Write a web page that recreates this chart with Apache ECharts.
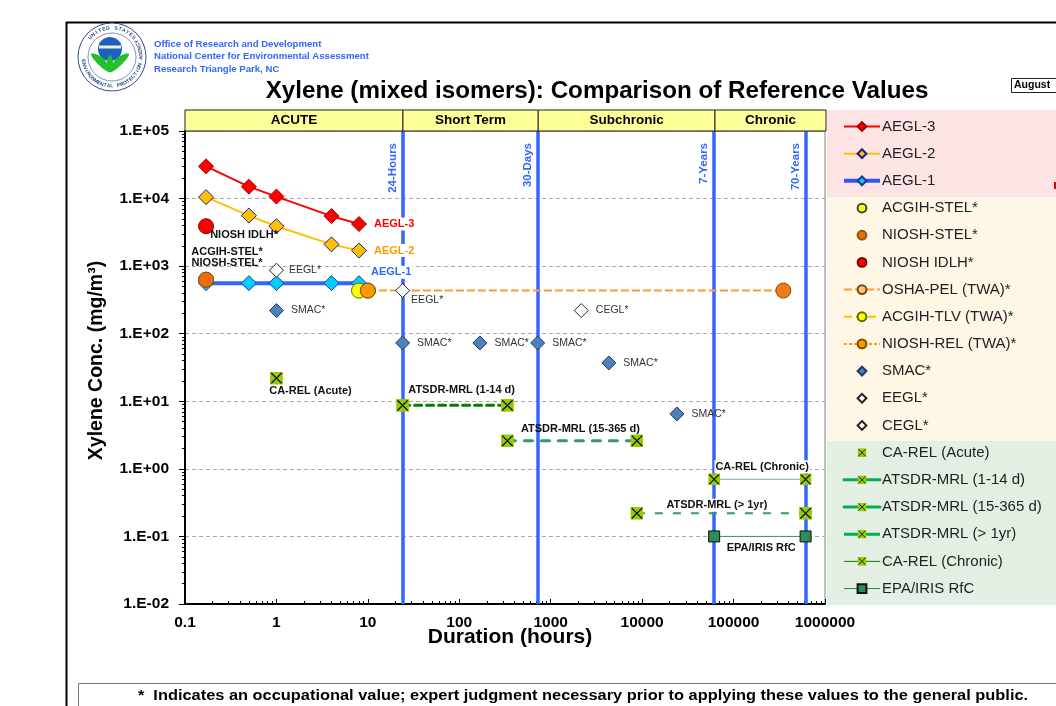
<!DOCTYPE html>
<html>
<head>
<meta charset="utf-8">
<style>
  html, body { margin: 0; padding: 0; background: #fff; overflow: hidden; }
  #main { width: 1056px; height: 706px; }
</style>
<script src="https://cdn.jsdelivr.net/npm/echarts@6/dist/echarts.min.js"></script>
</head>
<body>
<div id="main"></div>
<script>
// values (duration in hours, concentration in mg/m3)
const aeglX = [0.17, 0.5, 1, 4, 8];
const aegl3Y = [30000, 15000, 10700, 5500, 4200];
const aegl2Y = [10500, 5600, 3900, 2100, 1700];
const aegl1Y = [560, 560, 560, 560, 560];
const acgihStel = [[0.17, 630]];
const nioshStel = [[0.17, 630]];
const nioshIdlh = [[0.17, 3900]];
const oshaPel = [[10, 435], [350400, 435]];
const acgihTlv = [[8, 435]];
const nioshRel = [[10, 435]];
const smac = [[1, 220], [24, 73], [168, 73], [720, 73], [4320, 37], [24000, 6.5]];
const eegl = [[1, 870], [24, 435]];
const cegl = [[2160, 220]];
const caRelAcute = [[1, 22]];
const atsdr14 = [[24, 8.7], [336, 8.7]];
const atsdr365 = [[336, 2.6], [8760, 2.6]];
const atsdrYr = [[8760, 0.22], [613200, 0.22]];
const caRelChronic = [[61320, 0.7], [613200, 0.7]];
const epaRfc = [[61320, 0.1], [613200, 0.1]];
const durationMarks = [[24, '24-Hours'], [720, '30-Days'], [61320, '7-Years'], [613200, '70-Years']];
const headerBands = [[0.1, 24, 'ACUTE'], [24, 720, 'Short Term'], [720, 61320, 'Subchronic'], [61320, 1000000, 'Chronic']];
const legendNames = ['AEGL-3', 'AEGL-2', 'AEGL-1', 'ACGIH-STEL*', 'NIOSH-STEL*', 'NIOSH IDLH*', 'OSHA-PEL (TWA)*',
  'ACGIH-TLV (TWA)*', 'NIOSH-REL (TWA)*', 'SMAC*', 'EEGL*', 'CEGL*', 'CA-REL (Acute)', 'ATSDR-MRL (1-14 d)',
  'ATSDR-MRL (15-365 d)', 'ATSDR-MRL (> 1yr)', 'CA-REL (Chronic)', 'EPA/IRIS RfC'];

const FONT = '"Liberation Sans", Arial, sans-serif';
const zip = (xs, ys) => xs.map((x, i) => [x, ys[i]]);

// square with a black cross, the CA-REL / ATSDR marker
const crossSvg = 'image://data:image/svg+xml;utf8,' + encodeURIComponent(
  '<svg xmlns="http://www.w3.org/2000/svg" width="20" height="20"><rect width="20" height="20" fill="#99cc00"/>' +
  '<path d="M2 2L18 18M18 2L2 18" stroke="#111" stroke-width="2"/></svg>');

// put a label on one point of a series
function tag(data, idx, label) {
  return data.map((d, i) => i === idx ? { value: d, label: Object.assign({ show: true }, label) } : { value: d });
}
const boldLabel = { fontFamily: FONT, fontSize: 11, fontWeight: 'bold', color: '#111' };
const thinLabel = { fontFamily: FONT, fontSize: 10.5, color: '#333', position: 'right', distance: 7 };

function lineSeries(name, data, color, width, symbol, size, fill, border, extra) {
  return Object.assign({
    name: name, type: 'line', data: data, symbol: symbol, symbolSize: size, showAllSymbol: true,
    lineStyle: { color: color, width: width },
    itemStyle: { color: fill, borderColor: border, borderWidth: 1 },
    emphasis: { disabled: true }, animation: false
  }, extra || {});
}

const series = [];
// header bar on its own little grid, same log scale
series.push({
  type: 'custom', xAxisIndex: 1, yAxisIndex: 1, data: headerBands, silent: true, animation: false,
  encode: { x: [0, 1] },
  renderItem: function (params, api) {
    const a = api.coord([api.value(0), 1]);
    const b = api.coord([api.value(1), 0]);
    return {
      type: 'rect',
      shape: { x: a[0], y: a[1], width: b[0] - a[0], height: b[1] - a[1] },
      style: { fill: '#ffff99', stroke: '#222', lineWidth: 1 },
      textContent: { style: { text: headerBands[params.dataIndex][2], font: 'bold 13.5px ' + FONT, fill: '#000' } },
      textConfig: { position: 'inside' }
    };
  }
});
// vertical time markers, kept under the marks and their white label boxes
series.push({
  type: 'line', data: [], animation: false, silent: true, z: 1,
  markLine: {
    silent: true, symbol: 'none', animation: false, z: 1,
    lineStyle: { color: '#3366ff', width: 3.5, type: 'solid' },
    label: { show: true, position: 'insideEndTop', fontFamily: FONT, fontSize: 11.5, fontWeight: 'bold', color: '#3366ff', formatter: '{b}', distance: 4, padding: [0, 8, 0, 0] },
    data: durationMarks.map(m => ({ name: m[1], xAxis: m[0] }))
  }
});

const whiteLabel = { backgroundColor: '#fff', padding: [1, 1] };
series.push(lineSeries('AEGL-1', tag(zip(aeglX, aegl1Y), 4, Object.assign({}, boldLabel, whiteLabel, { formatter: 'AEGL-1', position: 'right', distance: 3, offset: [0, -11], color: '#3366ff' })), '#3366ff', 4, 'diamond', 15, '#00ccff', '#1f3a93'));
series.push(lineSeries('AEGL-2', tag(zip(aeglX, aegl2Y), 4, Object.assign({}, boldLabel, whiteLabel, { formatter: 'AEGL-2', position: 'right', distance: 6, color: '#ff9900' })), '#ffc000', 2, 'diamond', 15, '#ffc000', '#1f1f8f'));
series.push(lineSeries('AEGL-3', tag(zip(aeglX, aegl3Y), 4, Object.assign({}, boldLabel, whiteLabel, { formatter: 'AEGL-3', position: 'right', distance: 6, color: '#ff0000' })), '#ff0000', 2, 'diamond', 15, '#ff0000', '#a00000'));
series.push(lineSeries('ACGIH-TLV (TWA)*', acgihTlv, '#ffc000', 2, 'circle', 15, '#ffff00', '#666600', { lineStyle: { color: '#ffc000', width: 2, type: [8, 4] } }));
series.push(lineSeries('OSHA-PEL (TWA)*', oshaPel, '#ff9933', 2, 'circle', 15, '#f07a1a', '#7f4a00', { lineStyle: { color: '#ff9933', width: 2, type: [8, 3] } }));
series.push(lineSeries('NIOSH-REL (TWA)*', nioshRel, '#ff9900', 1, 'circle', 15, '#ff9900', '#7f4a00', { lineStyle: { color: '#ff9900', width: 1, type: 'dashed' } }));
series.push(lineSeries('ACGIH-STEL*', acgihStel, '#000', 0, 'circle', 15, '#ffff00', '#444'));
series.push(lineSeries('NIOSH-STEL*', tag(nioshStel, 0, Object.assign({}, boldLabel, { formatter: 'ACGIH-STEL*\nNIOSH-STEL*', position: 'top', distance: 5, offset: [21, 1.5], lineHeight: 11 })), '#000', 0, 'circle', 15, '#f06a10', '#8a5a00'));
series.push(lineSeries('NIOSH IDLH*', tag(nioshIdlh, 0, Object.assign({}, boldLabel, { formatter: 'NIOSH IDLH*', position: 'bottom', distance: -1, offset: [38, -4] })), '#000', 0, 'circle', 15, '#ff0000', '#800000'));
series.push(lineSeries('SMAC*', smac.map(d => ({ value: d, label: Object.assign({ show: true, formatter: 'SMAC*' }, thinLabel) })), '#000', 0, 'diamond', 14, '#4f81bd', '#1f3a5f'));
series.push(lineSeries('EEGL*', [
  { value: eegl[0], label: Object.assign({ show: true, formatter: 'EEGL*' }, thinLabel, { distance: 5 }) },
  { value: eegl[1], label: Object.assign({ show: true, formatter: 'EEGL*' }, thinLabel, { offset: [-6, 10] }) }
], '#000', 0, 'diamond', 14, '#fff', '#222'));
series.push(lineSeries('CEGL*', cegl.map(d => ({ value: d, label: Object.assign({ show: true, formatter: 'CEGL*' }, thinLabel) })), '#000', 0, 'diamond', 14, '#fff', '#222'));
series.push(lineSeries('CA-REL (Acute)', tag(caRelAcute, 0, Object.assign({}, boldLabel, { formatter: 'CA-REL (Acute)', position: 'bottom', distance: 1, offset: [34, 0] })), '#000', 0, crossSvg, 13, '#99cc00', '#333'));
series.push(lineSeries('ATSDR-MRL (1-14 d)', tag(atsdr14, 0, Object.assign({}, boldLabel, { formatter: 'ATSDR-MRL (1-14 d)', position: 'top', distance: 4, offset: [59, 1] })), '#008000', 3, crossSvg, 13, '#99cc00', '#333', { lineStyle: { color: '#008000', width: 3, type: [7, 5], cap: 'round' } }));
series.push(lineSeries('ATSDR-MRL (15-365 d)', tag(atsdr365, 0, Object.assign({}, boldLabel, { formatter: 'ATSDR-MRL (15-365 d)', position: 'top', distance: 0, offset: [73, 0] })), '#339966', 3, crossSvg, 13, '#99cc00', '#333', { lineStyle: { color: '#339966', width: 3, type: [8, 9], cap: 'round' } }));
series.push(lineSeries('ATSDR-MRL (> 1yr)', tag(atsdrYr, 0, Object.assign({}, boldLabel, whiteLabel, { formatter: 'ATSDR-MRL (> 1yr)', position: 'top', distance: 0, offset: [80, 5] })), '#339966', 2, crossSvg, 13, '#99cc00', '#333', { lineStyle: { color: '#339966', width: 2, type: [8, 10] } }));
series.push(lineSeries('CA-REL (Chronic)', tag(caRelChronic, 0, Object.assign({}, boldLabel, whiteLabel, { formatter: 'CA-REL (Chronic)', position: 'top', distance: 1, offset: [48, 1] })), '#66bb88', 1, crossSvg, 12, '#99cc00', '#333'));
series.push(lineSeries('EPA/IRIS RfC', tag(epaRfc, 0, Object.assign({}, boldLabel, { formatter: 'EPA/IRIS RfC', position: 'bottom', distance: 3, offset: [47, -3] })), '#339966', 1, 'rect', 11, '#2e8b57', '#111'));

// legend keys differ a bit from the marks in the plot
const legendLines = {
  'AEGL-1': { color: '#3355ee', width: 4, type: 'solid' },
  'NIOSH-REL (TWA)*': { type: [3, 2] },
  'ATSDR-MRL (1-14 d)': { color: '#00b050', width: 3, type: 'solid' },
  'ATSDR-MRL (15-365 d)': { color: '#00b050', width: 3, type: 'solid' },
  'ATSDR-MRL (> 1yr)': { color: '#00b050', width: 3, type: 'solid' },
  'CA-REL (Chronic)': { color: '#008000', width: 1, type: 'solid' },
  'EPA/IRIS RfC': { color: '#2e7d55', width: 1, type: 'solid' }
};
const legendData = legendNames.map(n => {
  const item = { name: n };
  if (legendLines[n]) item.lineStyle = legendLines[n];
  if (n === 'OSHA-PEL (TWA)*') item.itemStyle = { color: '#fdc08a' };
  return item;
});

// EPA seal and page furniture
const leaf = pts => ({ type: 'polygon', shape: { points: pts, smooth: 0.4 }, style: { fill: '#22c02a' } });
const graphics = [
  { type: 'rect', shape: { x: 827, y: 110, width: 229, height: 87 }, style: { fill: '#fde3e3' } },
  { type: 'rect', shape: { x: 827, y: 197, width: 229, height: 244 }, style: { fill: '#fef7e5' } },
  { type: 'rect', shape: { x: 827, y: 441, width: 229, height: 164 }, style: { fill: '#e4efe4' } },
  { type: 'rect', shape: { x: 1054, y: 182, width: 2, height: 7 }, style: { fill: '#e00000' } },
  { type: 'line', shape: { x1: 66, y1: 22.5, x2: 1056, y2: 22.5 }, style: { stroke: '#000', lineWidth: 2 } },
  { type: 'line', shape: { x1: 66.5, y1: 22, x2: 66.5, y2: 706 }, style: { stroke: '#000', lineWidth: 2 } },
  { type: 'rect', shape: { x: 1011.5, y: 78.5, width: 60, height: 14 }, style: { fill: '#fff', stroke: '#222', lineWidth: 1 } },
  { type: 'text', x: 1014, y: 80, style: { text: 'August', font: 'bold 10.5px ' + FONT, fill: '#000' } },
  { type: 'rect', shape: { x: 78.5, y: 683.5, width: 1000, height: 30 }, style: { fill: '#fff', stroke: '#777', lineWidth: 1 } },
  { type: 'text', x: 583, y: 696, scaleX: 1.17, style: { text: '*  Indicates an occupational value; expert judgment necessary prior to applying these values to the general public.', font: 'bold 14px ' + FONT, fill: '#000', align: 'center', verticalAlign: 'middle' } },
  { type: 'text', x: 154, y: 44, style: { text: 'Office of Research and Development', font: 'bold 9.6px ' + FONT, fill: '#3366ff', verticalAlign: 'middle' } },
  { type: 'text', x: 154, y: 56.5, style: { text: 'National Center for Environmental Assessment', font: 'bold 9.6px ' + FONT, fill: '#3366ff', verticalAlign: 'middle' } },
  { type: 'text', x: 154, y: 69, style: { text: 'Research Triangle Park, NC', font: 'bold 9.6px ' + FONT, fill: '#3366ff', verticalAlign: 'middle' } },
  { type: 'circle', shape: { cx: 112, cy: 57, r: 34 }, style: { fill: '#fff', stroke: '#2a4a8a', lineWidth: 1 } },
  { type: 'circle', shape: { cx: 112, cy: 57, r: 24 }, style: { fill: '#fff', stroke: '#2a4a8a', lineWidth: 0.6 } },
  { type: 'circle', shape: { cx: 110, cy: 49, r: 12 }, style: { fill: '#1f5fbf' } },
  { type: 'rect', shape: { x: 99, y: 45.5, width: 22, height: 3 }, style: { fill: '#e8f4d0' } },
  leaf([[110, 72], [100, 66], [91, 54], [103, 58]]),
  leaf([[110, 72], [120, 66], [129, 54], [117, 58]]),
  leaf([[110, 72], [107, 62], [110, 55], [113, 62]])
];
// seal lettering, one rotated character at a time
function ringText(text, startDeg, stepDeg, r, flip) {
  [...text].forEach((ch, i) => {
    const deg = startDeg + i * stepDeg;
    const rad = deg * Math.PI / 180;
    graphics.push({
      type: 'text', x: 112 + r * Math.sin(rad), y: 57 - r * Math.cos(rad),
      rotation: flip ? Math.PI - rad : -rad,
      style: { text: ch, font: 'bold 5px ' + FONT, fill: '#2a4a8a', align: 'center', verticalAlign: 'middle' }
    });
  });
}
ringText('UNITED STATES', -48, 8, 29, false);
ringText('ENVIRONMENTAL PROTECTION AGENCY', 262, -6.8, 29, true);

const chart = echarts.init(document.getElementById('main'));
chart.setOption({
  animation: false,
  textStyle: { fontFamily: FONT },
  title: {
    text: 'Xylene (mixed isomers): Comparison of Reference Values',
    left: 592, top: 74, textAlign: 'center',
    textStyle: { fontFamily: FONT, fontSize: 24.2, fontWeight: 'bold', color: '#000' }
  },
  legend: {
    data: legendData, orient: 'vertical', left: 842, top: 119, padding: 0,
    itemWidth: 36, itemHeight: 11, itemGap: 12.18, selectedMode: false,
    textStyle: { fontFamily: FONT, fontSize: 15, color: '#222', lineHeight: 14, padding: [0, 0, 0, -3] }
  },
  grid: [
    { left: 185, right: 231, top: 131, bottom: 102, show: true, borderColor: '#808080', borderWidth: 1 },
    { left: 185, right: 230, top: 110, height: 21 }
  ],
  xAxis: [
    {
      type: 'log', min: 0.1, max: 1000000, logBase: 10, name: 'Duration (hours)', nameLocation: 'middle', nameGap: 23, nameMoveOverlap: false,
      nameTextStyle: { fontFamily: FONT, fontSize: 21, fontWeight: 'bold', color: '#000', padding: [0, 0, 0, 10] },
      axisLine: { onZero: false, lineStyle: { color: '#000', width: 2 } },
      axisTick: { show: true, inside: true, length: 5, lineStyle: { color: '#000' } },
      minorTick: { show: true, splitNumber: 9, length: 3, lineStyle: { color: '#000' } },
      splitLine: { show: false },
      axisLabel: { margin: 11, fontFamily: FONT, fontSize: 15.5, fontWeight: 'bold', color: '#000', formatter: v => String(v) }
    },
    { type: 'log', gridIndex: 1, min: 0.1, max: 1000000, logBase: 10, show: false }
  ],
  yAxis: [
    {
      type: 'log', min: 0.01, max: 100000, logBase: 10, name: 'Xylene Conc. (mg/m³)', nameLocation: 'middle', nameGap: 78,
      nameTextStyle: { fontFamily: FONT, fontSize: 19.5, fontWeight: 'bold', color: '#000', padding: [0, 0, 0, 14] },
      axisLine: { onZero: false, lineStyle: { color: '#000', width: 2 } },
      axisTick: { show: true, length: 6, lineStyle: { color: '#000' } },
      minorTick: { show: true, splitNumber: 9, length: 3, lineStyle: { color: '#000' } },
      splitLine: { show: true, lineStyle: { color: '#aaa', type: [4, 3] } },
      axisLabel: {
        margin: 16, fontFamily: FONT, fontSize: 15.5, fontWeight: 'bold', color: '#000',
        formatter: v => v.toExponential(0).replace('e', '.E').replace(/([+-])(\d)$/, '$10$2')
      }
    },
    { type: 'value', gridIndex: 1, min: 0, max: 1, show: false }
  ],
  graphic: graphics,
  series: series
});
</script>
</body>
</html>
